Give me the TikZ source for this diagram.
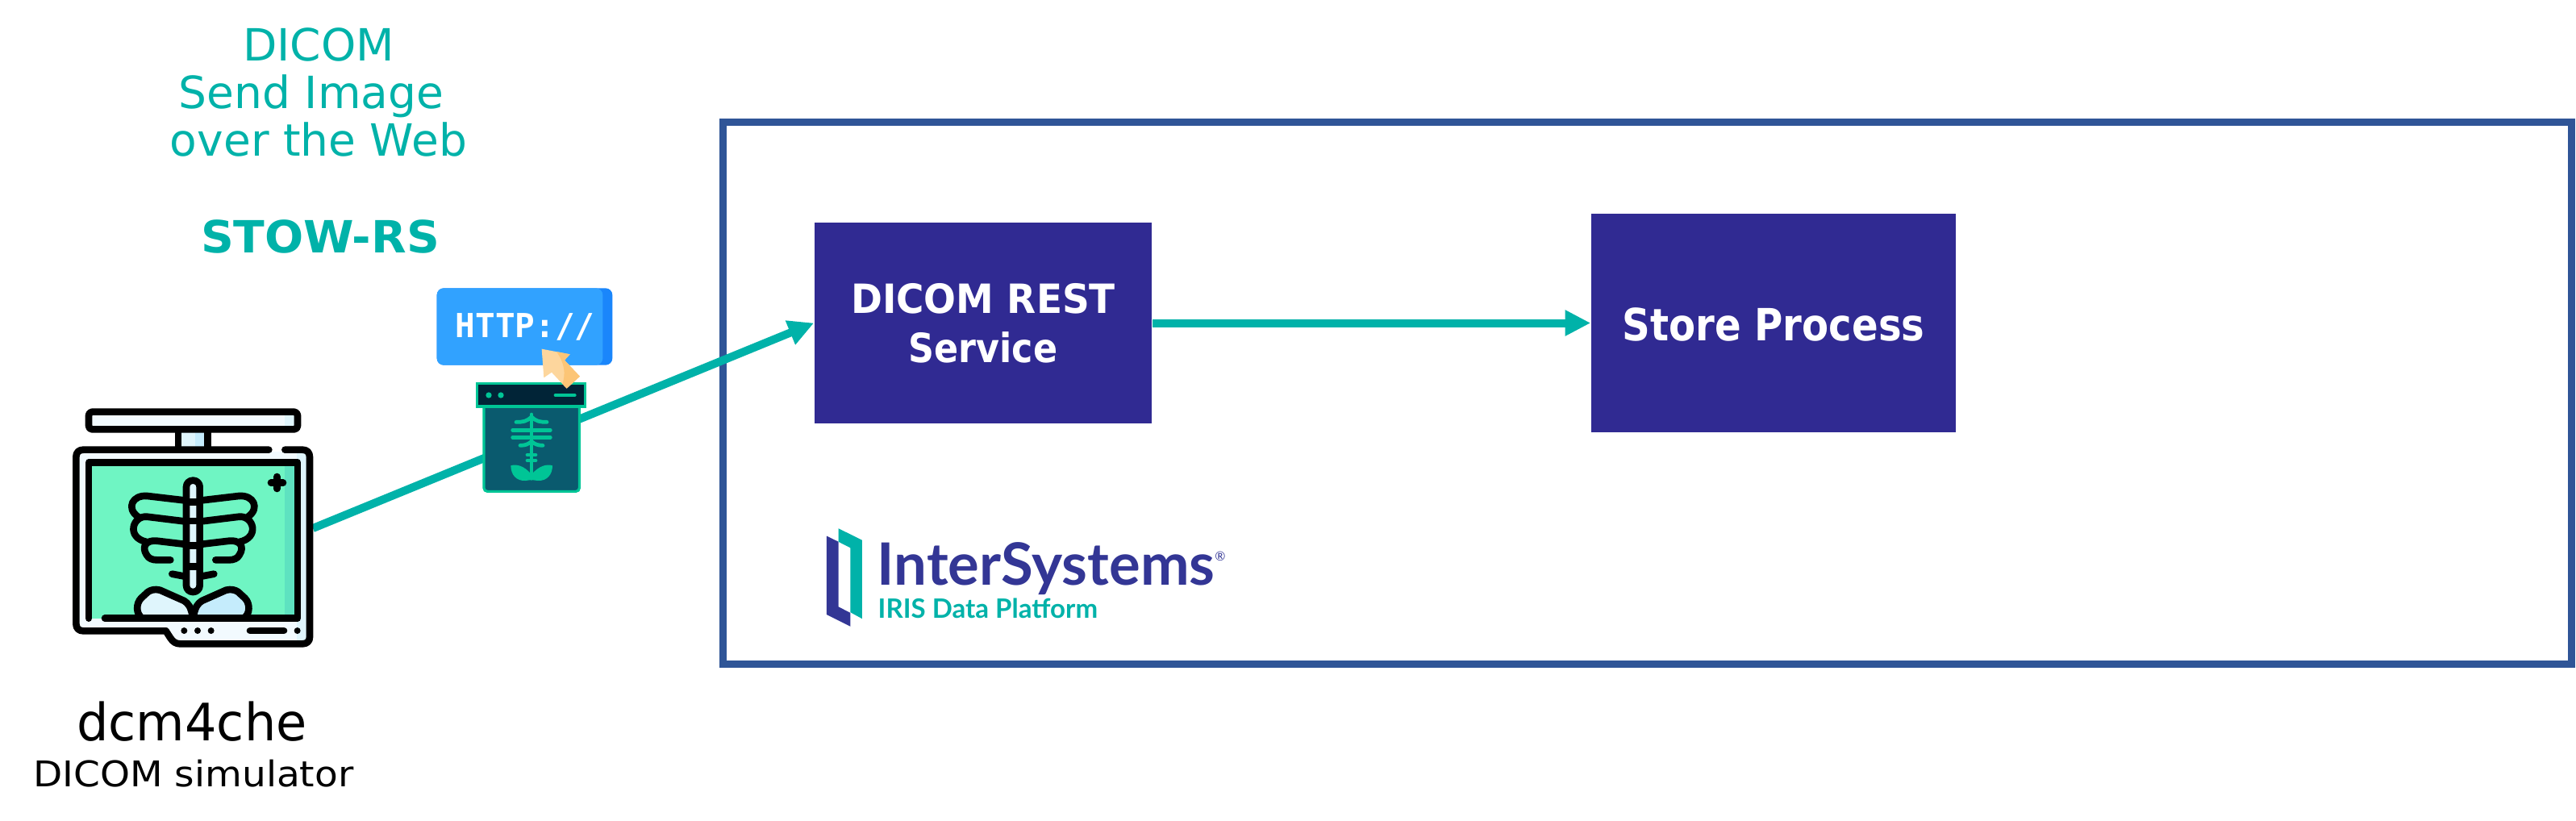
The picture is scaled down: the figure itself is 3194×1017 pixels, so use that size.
\documentclass[tikz,border=0pt]{standalone}
\usepackage{fontspec}
\setmainfont{DejaVu Sans}
\newfontfamily\logofont{Lato}
\newfontfamily\httpfont{DejaVu Sans Mono}
\usetikzlibrary{arrows.meta}
\definecolor{teal}{HTML}{00B2A9}
\definecolor{navy}{HTML}{302A92}
\definecolor{logonavy}{HTML}{333695}
\definecolor{frameblue}{HTML}{2F5597}
\definecolor{paleA}{HTML}{F2FAFE}
\definecolor{paleB}{HTML}{DFF5FC}
\definecolor{paleC}{HTML}{C5ECFC}
\definecolor{screen}{HTML}{6FF5C3}
\definecolor{screenB}{HTML}{5EE2C0}
\definecolor{httpA}{HTML}{31A2FF}
\definecolor{httpB}{HTML}{1A86FB}
\definecolor{curA}{HTML}{FDD69D}
\definecolor{curB}{HTML}{FCC576}
\definecolor{winDark}{HTML}{012437}
\definecolor{winBody}{HTML}{0A5A6E}
\definecolor{xgreen}{HTML}{00C596}
\tikzset{
  x=0.01cm,y=-0.01cm,
  procbox/.style={fill=navy,draw=none,text=white,inner sep=0pt,align=center,font=\bfseries\fontsize{14.2}{17.35}\selectfont},
  flow/.style={draw=teal,line width=2.85pt,-{Triangle[length=9pt,width=8.6pt]}},
  titletext/.style={anchor=base,text=teal,inner sep=0pt,font=\fontsize{15.65}{18}\selectfont},
  ink/.style={draw=black,line width=2.45pt,line cap=round,line join=round},
  thin ink/.style={draw=xgreen,line width=1.35pt,line cap=round,line join=round},
}
\begin{document}
\begin{tikzpicture}
\useasboundingbox (0,0) rectangle (3194,1017);
% frame
\draw[frameblue,line width=2.56pt] (896,151.5) rectangle (3188.5,823);
% process boxes
\node[procbox,minimum width=418*0.2845pt,minimum height=249*0.2845pt] (rest) at (1219,400.5) {\scalebox{.94}[1]{DICOM REST}\\\scalebox{.89}[1]{Service}};
\node[procbox,minimum width=452*0.2845pt,minimum height=270*0.2845pt,font=\bfseries\fontsize{15.65}{18}\selectfont] (store) at (2199,400.5) {\raisebox{-0.5pt}[\height][\depth]{\scalebox{.876}[1]{Store Process}}};
% connectors
\coordinate (simout) at (388,655);
\draw[flow] (simout) -- (rest.west);
\draw[flow] (rest.east) -- (store.west);
% titles
\node[titletext] (t1) at (395,75) {DICOM};
\node[titletext] (t2) at (386,134) {Send Image};
\node[titletext] (t3) at (395,193) {over the Web};
\node[titletext,font=\bfseries\fontsize{15.65}{18}\selectfont] (t4) at (397,313) {\scalebox{1.03}[1]{STOW-RS}};
\node[anchor=base,inner sep=0pt,font=\fontsize{18.2}{20}\selectfont] (sim1) at (238,918) {\scalebox{.97}[1]{dcm4che}};
\node[anchor=base,inner sep=0pt,font=\fontsize{12.5}{14}\selectfont] (sim2) at (240,975) {\scalebox{1.07}[1]{DICOM simulator}};
% monitor icon
\begin{scope}[shift={(60,480)},scale=1/3]
  \fill[paleA] (150,92) rectangle (927,157);
  \fill[paleB] (880,100) rectangle (927,150);
  \fill[paleB] (483,168) rectangle (593,235);
  \fill[paleC] (547,168) rectangle (593,235);
  \draw[ink,rounded corners=1.2pt] (150,92) rectangle (927,157);
  \draw[ink,line cap=butt] (483,160) -- (483,225) (593,160) -- (593,225);
  \fill[paleA] (110,240) -- (965,240) -- (965,950) -- (480,950) -- (445,900) -- (110,900) -- cycle;
  \fill[paleB] (925,240) rectangle (965,950);
  \draw[ink] (820,233) -- (130,233) .. controls (113,233) and (103,243) .. (103,260)
     -- (103,880) .. controls (103,897) and (113,907) .. (130,907)
     -- (437,907) -- (453,932) .. controls (463,948) and (475,955) .. (490,955)
     -- (945,955) .. controls (962,955) and (972,945) .. (972,930)
     -- (972,260) .. controls (972,243) and (962,233) .. (945,233) -- (880,233);
  \fill[screen] (150,280) rectangle (927,860);
  \fill[screenB] (880,280) rectangle (927,860);
  % plus
  \draw[ink] (850,333) -- (850,378) (828,356) -- (873,356);
  % hips
  \fill[paleB] (538,860) .. controls (530,815) and (520,805) .. (505,795) -- (415,755)
     .. controls (395,750) and (380,755) .. (370,762) -- (345,785)
     .. controls (325,805) and (325,845) .. (350,860) -- cycle;
  \fill[paleC] (538,860) .. controls (546,815) and (556,805) .. (571,795) -- (661,755)
     .. controls (681,750) and (696,755) .. (706,762) -- (731,785)
     .. controls (751,805) and (751,845) .. (726,860) -- cycle;
  \draw[ink] (350,860) .. controls (325,845) and (325,805) .. (345,785) -- (370,762)
     .. controls (380,755) and (395,750) .. (415,755) -- (505,795)
     .. controls (520,805) and (530,815) .. (538,860)
     .. controls (546,815) and (556,805) .. (571,795) -- (661,755)
     .. controls (681,750) and (696,755) .. (706,762) -- (731,785)
     .. controls (751,805) and (751,845) .. (726,860);
  % ribs
  \foreach \s in {1,-1} {
    \begin{scope}[shift={(538,0)},xscale=\s]
      \draw[ink] (25,422) -- (170,405) .. controls (225,400) and (250,450) .. (205,482);
      \draw[ink] (25,500) -- (172,482) .. controls (225,478) and (250,560) .. (172,576);
      \draw[ink] (25,585) -- (135,572) .. controls (170,568) and (195,590) .. (172,625)
         .. controls (165,638) and (150,643) .. (135,643) -- (84,643);
      \draw[ink] (25,705) -- (78,695);
    \end{scope}
  }
  % spine
  \draw[ink,fill=paleB,rounded corners=2.3pt] (513,347) rectangle (563,762);
  \draw[ink,line cap=butt] (513,428) -- (563,428) (513,498) -- (563,498) (513,590) -- (563,590) (513,668) -- (563,668);
  % screen outline
  \draw[ink] (150,860) -- (150,280) -- (927,280) -- (927,860) -- (210,860);
  % buttons
  \fill (505,906) circle[radius=12] (555,906) circle[radius=12] (605,906) circle[radius=12] (926,906) circle[radius=12];
  \draw[ink] (750,906) -- (876,906);
\end{scope}
% http icon
\begin{scope}[shift={(520,340)},scale=1/3]
  \fill[httpB,rounded corners=2.4pt] (65,52) rectangle (718,338);
  \fill[httpA,rounded corners=2.4pt] (65,52) rectangle (682,338);
  \node[anchor=base west,inner sep=0pt,text=white,font=\httpfont\bfseries\fontsize{11.67}{13}\selectfont] (http) at (132,235) {HTTP://};
  % xray window
  \draw[xgreen,fill=winBody,line width=0.9pt,rounded corners=1.2pt] (240,480) -- (240,808) -- (595,808) -- (595,480);
  \draw[xgreen,fill=winDark,line width=0.9pt] (215,407) rectangle (617,492);
  \fill[xgreen] (258,450) circle[radius=11] (303,450) circle[radius=11];
  \draw[thin ink] (507,450) -- (577,450);
  \draw[thin ink] (417,522) -- (417,760);
  \draw[thin ink] (417,530) .. controls (400,548) and (385,550) .. (360,550);
  \draw[thin ink] (417,530) .. controls (434,548) and (449,550) .. (474,550);
  \draw[thin ink] (347,580) -- (487,580);
  \draw[thin ink] (347,607) -- (487,607);
  \draw[thin ink] (375,637) .. controls (395,637) and (405,632) .. (417,622);
  \draw[thin ink] (459,637) .. controls (439,637) and (429,632) .. (417,622);
  \draw[thin ink] (402,672) -- (432,672);
  \draw[thin ink] (402,693) -- (432,693);
  \fill[xgreen] (417,745) .. controls (390,712) and (360,705) .. (340,712)
    .. controls (340,745) and (360,770) .. (395,768) -- (417,765)
    -- (440,768) .. controls (475,770) and (495,745) .. (495,712)
    .. controls (475,705) and (445,712) .. (417,745) -- cycle;
  % cursor
  \fill[curA] (455,278) -- (560,298) -- (540,320) -- (597,380) -- (548,425) -- (492,365) -- (463,385) -- cycle;
  \fill[curB] (510,288) -- (560,298) -- (540,320) -- (597,380) -- (548,425) -- (532,408)
     .. controls (545,370) and (540,330) .. (510,288) -- cycle;
\end{scope}
% logo
\begin{scope}[shift={(1000,638)},scale=0.3444]
  \fill[logonavy] (72,77) -- (115,98) -- (115,332) -- (158,354) -- (158,403) -- (72,360) -- cycle;
  \fill[teal] (115,50) -- (200,92) -- (200,375) -- (158,352) -- (158,120) -- (115,98) -- cycle;
\end{scope}
\node[anchor=base west,inner sep=0pt,text=logonavy,font=\logofont\bfseries\fontsize{20.6}{24}\selectfont] (logo1) at (1087,725) {InterSystems};
\node[anchor=center,inner sep=0pt,text=logonavy,font=\logofont\fontsize{4.5}{6}\selectfont] (logo2) at (1513,690) {®};
\node[anchor=base west,inner sep=0pt,text=teal,font=\logofont\bfseries\fontsize{9.4}{11}\selectfont] (logo3) at (1088,766) {IRIS Data Platform};
\end{tikzpicture}
\end{document}
